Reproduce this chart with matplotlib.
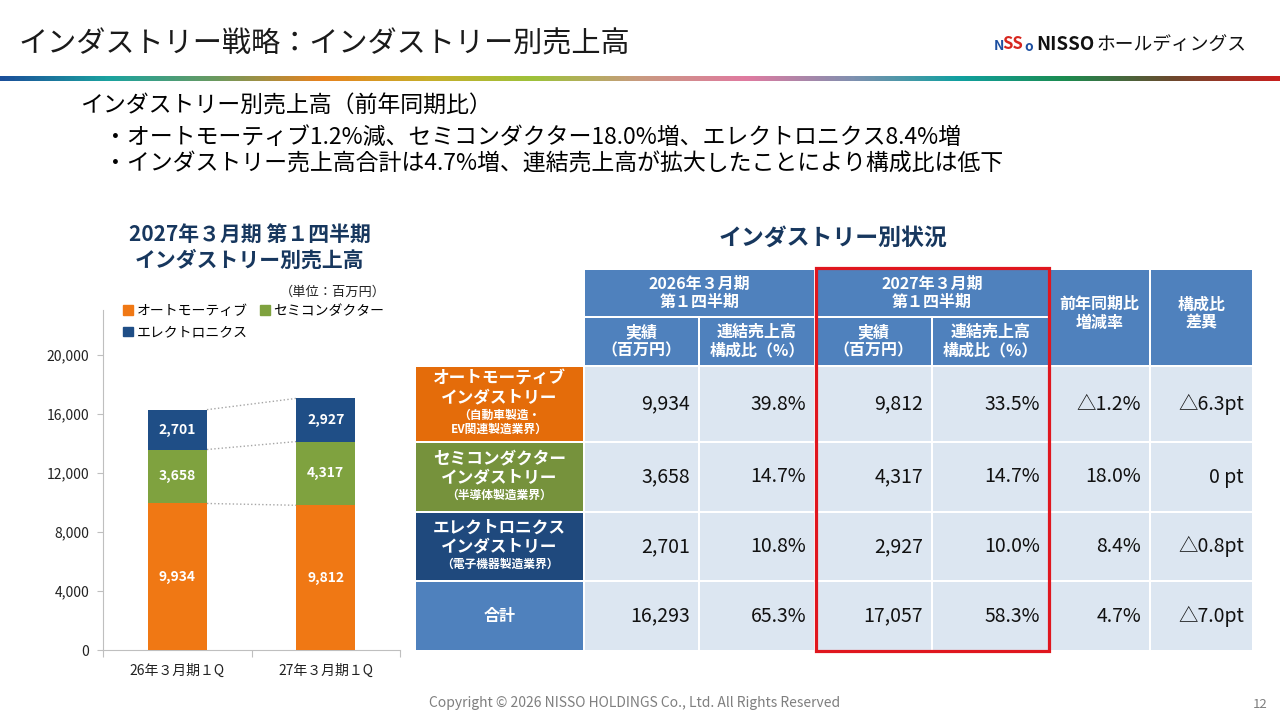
import matplotlib
matplotlib.use("Agg")
import matplotlib.pyplot as plt
import numpy as np
from matplotlib.patches import Rectangle, Patch
from matplotlib.colors import LinearSegmentedColormap

plt.rcParams['font.family'] = ['Noto Sans CJK JP', 'DejaVu Sans']

# ---------------- data ----------------
periods = ['26年３月期１Q', '27年３月期１Q']
segments = ['オートモーティブ', 'セミコンダクター', 'エレクトロニクス']
auto_sales = [9934, 9812]
semi_sales = [3658, 4317]
elec_sales = [2701, 2927]
yticks = [0, 4000, 8000, 12000, 16000, 20000]

row_labels = ['オートモーティブ\nインダストリー', 'セミコンダクター\nインダストリー',
              'エレクトロニクス\nインダストリー', '合計']
row_sublabels = ['（自動車製造・\nEV関連製造業界）', '（半導体製造業界）', '（電子機器製造業界）', '']
prev_sales = [9934, 3658, 2701, 16293]
prev_ratio = [39.8, 14.7, 10.8, 65.3]
cur_sales = [9812, 4317, 2927, 17057]
cur_ratio = [33.5, 14.7, 10.0, 58.3]
yoy_rate = [-1.2, 18.0, 8.4, 4.7]
ratio_diff = [-6.3, 0.0, -0.8, -7.0]

# ---------------- styles ----------------
C_AUTO = '#F07814'
C_SEMI = '#7FA23F'
C_ELEC = '#1F4E86'
C_HEAD = '#4F81BD'
C_CELL = '#DCE6F1'
C_NAVY = '#17375E'
row_colors = ['#E46C0A', '#76923C', '#1F497D', '#4F81BD']

fig = plt.figure(figsize=(12.8, 7.2), dpi=100)
ov = fig.add_axes([0, 0, 1, 1], zorder=0)
ov.set_xlim(0, 1280)
ov.set_ylim(720, 0)
ov.axis('off')

# title
ov.text(18, 44, 'インダストリー戦略：インダストリー別売上高', fontsize=21, color='#1a1a1a',
        va='center', ha='left')
# logo
ov.text(994, 46, 'N', fontsize=10, color='#1D4FA0', fontweight='bold', va='center')
ov.text(1002, 44, 'SS', fontsize=12, color='#D7261E', fontweight='bold', va='center', fontstyle='italic')
ov.text(1024, 47, 'o', fontsize=10, color='#1D4FA0', fontweight='bold', va='center')
ov.text(1036, 45, 'NISSO', fontsize=13.5, color='#111111', fontweight='bold', va='center')
ov.text(1097, 45, 'ホールディングス', fontsize=13.5, color='#111111', va='center')

# gradient bar
grad_colors = ['#1B4F9A', '#1AA3A0', '#6A9A60', '#E8821E', '#C7AE2A', '#9DC23A',
               '#C99A80', '#E07AA0', '#8090B0', '#10A0A0', '#1B8C50', '#6B4A2E', '#C8201E']
cmap = LinearSegmentedColormap.from_list('g', grad_colors)
gax = fig.add_axes([0, 1 - 81 / 720, 1, 5 / 720])
gax.imshow(np.linspace(0, 1, 512)[None, :], aspect='auto', cmap=cmap)
gax.axis('off')

# body text
ov.text(80, 106, 'インダストリー別売上高（前年同期比）', fontsize=16.5, va='center')
ov.text(104, 137, '・オートモーティブ1.2%減、セミコンダクター18.0%増、エレクトロニクス8.4%増',
        fontsize=16.5, va='center')
ov.text(104, 164, '・インダストリー売上高合計は4.7%増、連結売上高が拡大したことにより構成比は低下',
        fontsize=16.5, va='center')

# ---------------- bar chart ----------------
ov.text(250, 234, '2027年３月期 第１四半期', fontsize=15, fontweight='bold', color=C_NAVY,
        ha='center', va='center')
ov.text(250, 260, 'インダストリー別売上高', fontsize=15, fontweight='bold', color=C_NAVY,
        ha='center', va='center')
ov.text(386, 292, '（単位：百万円）', fontsize=9.5, ha='right', va='center', color='#222222')

ax = fig.add_axes([103 / 1280, 70 / 720, 297 / 1280, 340 / 720], zorder=2)
ax.patch.set_alpha(0)
x = np.arange(len(periods))
bw = 0.4
series = [(auto_sales, C_AUTO, segments[0]), (semi_sales, C_SEMI, segments[1]),
          (elec_sales, C_ELEC, segments[2])]
bottom = np.zeros(len(periods))
tops = []
for vals, col, name in series:
    vals = np.array(vals, dtype=float)
    ax.bar(x, vals, bw, bottom=bottom, color=col, edgecolor='none', zorder=3)
    for xi, v, b in zip(x, vals, bottom):
        ax.text(xi, b + v / 2, f'{int(v):,}', ha='center', va='center', color='white',
                fontsize=10, fontweight='bold', zorder=4)
    bottom = bottom + vals
    tops.append(bottom.copy())
for t in tops:
    ax.plot([x[0] + bw / 2, x[1] - bw / 2], [t[0], t[1]], ls=':', color='#A6A6A6', lw=1, zorder=2)

ax.set_xlim(-0.5, 1.5)
ax.set_ylim(0, 23050)
ax.set_yticks(yticks)
ax.set_yticklabels([f'{v:,}' for v in yticks], fontsize=10, color='#222222')
ax.set_xticks([-0.5, 0.5, 1.5])
ax.set_xticklabels([])
ax.set_xticks(x, minor=True)
ax.set_xticklabels(periods, minor=True, fontsize=10, color='#222222')
ax.tick_params(axis='x', which='major', length=5, color='#BFBFBF')
ax.tick_params(axis='x', which='minor', length=0, pad=10)
ax.tick_params(axis='y', length=4, color='#BFBFBF', pad=6)
for s in ['top', 'right']:
    ax.spines[s].set_visible(False)
for s in ['left', 'bottom']:
    ax.spines[s].set_color('#BFBFBF')

handles = [Patch(color=C_AUTO, label=segments[0]), Patch(color=C_ELEC, label=segments[2]),
           Patch(color=C_SEMI, label=segments[1])]
ax.legend(handles=handles, ncol=2, loc='upper left', bbox_to_anchor=(0.05, 1.035), frameon=False,
          fontsize=10, handlelength=0.7, handleheight=0.7, handletextpad=0.25,
          columnspacing=0.9, labelspacing=0.55, borderaxespad=0)

# ---------------- table ----------------
ov.text(833, 238, 'インダストリー別状況', fontsize=16.5, fontweight='bold', color=C_NAVY,
        ha='center', va='center')

col_edges = [415, 584, 699, 815, 932, 1049, 1150, 1253]
row_edges = [269, 317, 366, 442, 512, 581, 651]


def cell(c0, c1, r0, r1, color):
    x0, x1 = col_edges[c0], col_edges[c1]
    y0, y1 = row_edges[r0], row_edges[r1]
    ov.add_patch(Rectangle((x0 + 1, y0 + 1), x1 - x0 - 2, y1 - y0 - 2, facecolor=color,
                           edgecolor='none', zorder=1))
    return (x0 + x1) / 2, (y0 + y1) / 2, x1


hdr_kw = dict(color='white', fontweight='bold', fontsize=11.5, ha='center', va='center',
              linespacing=1.2, zorder=3)
cx, cy, _ = cell(1, 3, 0, 1, C_HEAD)
ov.text(cx, cy, '2026年３月期\n第１四半期', **hdr_kw)
cx, cy, _ = cell(3, 5, 0, 1, C_HEAD)
ov.text(cx, cy, '2027年３月期\n第１四半期', **hdr_kw)
cx, cy, _ = cell(5, 6, 0, 2, C_HEAD)
ov.text(cx, cy - 4, '前年同期比\n増減率', **hdr_kw)
cx, cy, _ = cell(6, 7, 0, 2, C_HEAD)
ov.text(cx, cy - 4, '構成比\n差異', **hdr_kw)
for c in [1, 3]:
    cx, cy, _ = cell(c, c + 1, 1, 2, C_HEAD)
    ov.text(cx, cy, '実績\n（百万円）', **hdr_kw)
    cx, cy, _ = cell(c + 1, c + 2, 1, 2, C_HEAD)
    ov.text(cx, cy, '連結売上高\n構成比（%）', **hdr_kw)


def fmt_delta(v, unit):
    if v < 0:
        return f'△{abs(v):.1f}{unit}'
    if v == 0:
        return f'0 {unit}'
    return f'{v:.1f}{unit}'


for i in range(len(row_labels)):
    r = i + 2
    cx, cy, _ = cell(0, 1, r, r + 1, row_colors[i])
    if row_sublabels[i]:
        nsub = row_sublabels[i].count('\n') + 1
        if nsub == 2:
            main_y = cy - 16
            sub_y = cy + 18
        else:
            main_y = cy - 9
            sub_y = cy + 18
        ov.text(cx, main_y, row_labels[i], color='white', fontweight='bold', fontsize=12,
                ha='center', va='center', linespacing=1.05, zorder=3)
        ov.text(cx, sub_y, row_sublabels[i], color='white', fontweight='bold', fontsize=8.5,
                ha='center', va='center', linespacing=1.1, zorder=3)
    else:
        ov.text(cx, cy, row_labels[i], color='white', fontweight='bold', fontsize=11.5,
                ha='center', va='center', zorder=3)
    texts = [f'{prev_sales[i]:,}', f'{prev_ratio[i]:.1f}%', f'{cur_sales[i]:,}',
             f'{cur_ratio[i]:.1f}%', fmt_delta(yoy_rate[i], '%'), fmt_delta(ratio_diff[i], 'pt')]
    for j, t in enumerate(texts):
        cx, cy, xr = cell(j + 1, j + 2, r, r + 1, C_CELL)
        ov.text(xr - 9, cy, t, fontsize=14, ha='right', va='center', color='#111111', zorder=3)

ov.add_patch(Rectangle((col_edges[3] + 1, row_edges[0] - 1), col_edges[5] - col_edges[3] - 1,
                       row_edges[-1] - row_edges[0] + 1, fill=False, edgecolor='#E0161E',
                       lw=2.3, zorder=5))

# footer
ov.text(635, 703, 'Copyright © 2026 NISSO HOLDINGS Co., Ltd. All Rights Reserved', fontsize=10,
        color='#7F7F7F', ha='center', va='center')
ov.text(1268, 705, '12', fontsize=9.5, color='#7F7F7F', ha='right', va='center')

fig.savefig('out.png', dpi=100)
